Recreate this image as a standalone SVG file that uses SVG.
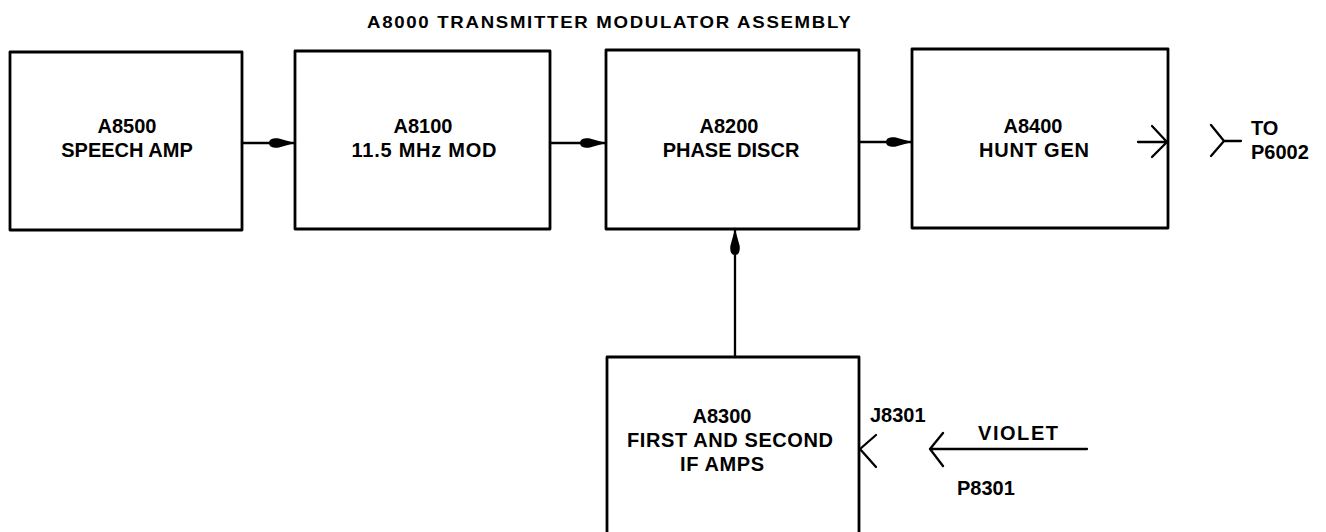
<svg xmlns="http://www.w3.org/2000/svg" width="1326" height="532" viewBox="0 0 1326 532">
<style>
.box{fill:#fff;stroke:#000;stroke-width:2.8;stroke-linejoin:round}
.ln{fill:none;stroke:#000;stroke-width:2.3;stroke-linecap:round;stroke-linejoin:round}
.t{font-family:"Liberation Sans",Arial,sans-serif;font-weight:bold;font-size:20px;fill:#000;text-anchor:middle}
.tl{font-family:"Liberation Sans",Arial,sans-serif;font-weight:bold;font-size:20px;fill:#000}
.title{font-family:"Liberation Sans",Arial,sans-serif;font-weight:bold;font-size:16.5px;fill:#000;letter-spacing:1.5px}
</style>
<defs>
<marker id="ah" viewBox="0 0 26 10" refX="26" refY="5" markerWidth="26" markerHeight="10" markerUnits="userSpaceOnUse" orient="auto">
<path d="M0,5 C0,0.5 5,0 9,0.3 L26,5 L9,9.7 C5,10 0,9.5 0,5 Z" fill="#000"/>
</marker>
</defs>
<text class="title" transform="translate(367,28) scale(1.13,1)" x="0" y="0">A8000 TRANSMITTER MODULATOR ASSEMBLY</text>
<g id="A8500">
<rect class="box" x="10" y="52" width="232" height="178"/>
<text class="t" x="127" y="133">A8500</text>
<text class="t" x="127" y="157">SPEECH AMP</text>
</g>
<g id="A8100">
<rect class="box" x="295" y="51" width="255" height="178"/>
<text class="t" x="423" y="133">A8100</text>
<text class="t" x="424" y="157" textLength="145" lengthAdjust="spacing">11.5 MHz MOD</text>
</g>
<g id="A8200">
<rect class="box" x="606" y="50" width="253" height="179"/>
<text class="t" x="729" y="133">A8200</text>
<text class="t" x="731" y="157">PHASE DISCR</text>
</g>
<g id="A8400">
<rect class="box" x="912" y="49" width="256" height="179"/>
<text class="t" x="1033" y="133">A8400</text>
<text class="t" x="1034" y="157" textLength="110" lengthAdjust="spacing">HUNT GEN</text>
</g>
<g id="A8300">
<path class="box" d="M607,540 V357 H859 V540"/>
<text class="t" x="722" y="423">A8300</text>
<text class="t" x="730" y="447" textLength="206" lengthAdjust="spacing">FIRST AND SECOND</text>
<text class="t" x="722" y="471" textLength="84" lengthAdjust="spacing">IF AMPS</text>
</g>
<g id="connectors">
<line class="ln" x1="242" y1="143" x2="295" y2="143" marker-end="url(#ah)"/>
<line class="ln" x1="550" y1="143" x2="606" y2="143" marker-end="url(#ah)"/>
<line class="ln" x1="859" y1="142" x2="912" y2="142" marker-end="url(#ah)"/>
<line class="ln" x1="735" y1="357" x2="735" y2="229" marker-end="url(#ah)"/>
<path class="ln" d="M1138,142 H1167 M1152,126 L1167,142 L1152,157"/>
<path class="ln" d="M1211,125 L1224,141 L1211,156 M1224,141 H1241"/>
<path class="ln" d="M876,435 L860,449 L876,467"/>
<path class="ln" d="M943,433 L930,449 L943,466 M930,449 H1087"/>
</g>
<text class="tl" x="1251" y="135">TO</text>
<text class="tl" x="1251" y="159">P6002</text>
<text class="tl" x="870" y="422">J8301</text>
<text class="tl" x="978" y="440" textLength="80" lengthAdjust="spacing">VIOLET</text>
<text class="tl" x="957" y="495">P8301</text>
</svg>
